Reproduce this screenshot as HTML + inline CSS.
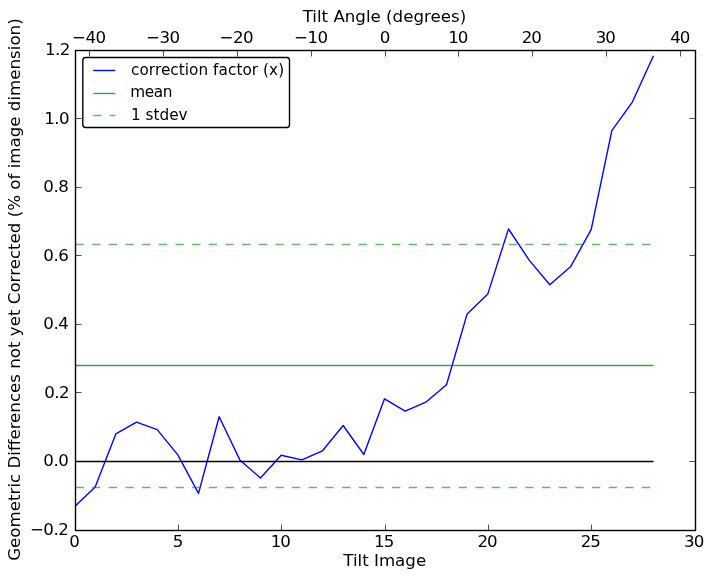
<!DOCTYPE html>
<html><head><meta charset="utf-8"><title>Tilt correction</title>
<style>
html,body{margin:0;padding:0;background:#fff;}
body{width:714px;height:579px;overflow:hidden;}
svg{display:block;}
text{font-family:"DejaVu Sans","Liberation Sans",sans-serif;font-size:16.667px;fill:#000;}
.lg text{font-size:15.28px;}
.tk text{letter-spacing:-0.55px;}
</style></head><body>
<svg width="714" height="579" viewBox="0 0 714 579">
<rect x="0" y="0" width="714" height="579" fill="#fff"/>
<defs><clipPath id="ac"><rect x="75" y="50" width="620" height="480"/></clipPath></defs>
<polyline points="74.50,506.70 95.17,487.10 115.83,433.90 136.50,422.10 157.17,429.60 177.83,454.90 198.50,493.40 219.17,416.70 239.83,459.90 260.50,478.00 281.17,455.30 301.83,459.90 322.50,450.80 343.17,425.50 363.83,454.50 384.50,398.80 405.17,411.20 425.83,402.20 446.50,384.80 467.17,313.90 487.83,293.90 508.50,228.90 529.17,260.10 549.83,284.70 570.50,266.80 591.17,229.70 611.83,130.60 632.50,101.80 653.17,56.30" fill="none" stroke="#0000ff" stroke-width="1.389" stroke-linejoin="round" stroke-linecap="square" clip-path="url(#ac)"/>
<line x1="75.5" y1="461.50" x2="653.5" y2="461.50" stroke="#000" stroke-width="1.389" stroke-opacity="1"/>
<line x1="75.5" y1="365.50" x2="653.5" y2="365.50" stroke="#008000" stroke-width="1.389" stroke-opacity="0.75"/>
<line x1="75.5" y1="244.50" x2="653.5" y2="244.50" stroke="#008000" stroke-width="1.389" stroke-opacity="0.58" stroke-dasharray="8.33 8.33"/>
<line x1="75.5" y1="487.50" x2="653.5" y2="487.50" stroke="#008000" stroke-width="1.389" stroke-opacity="0.58" stroke-dasharray="8.33 8.33"/>
<rect x="75.5" y="50.5" width="620.0" height="480.0" fill="none" stroke="#000" stroke-width="1.389"/>
<path d="M75.5 530.5v-6.0 M178.5 530.5v-6.0 M281.5 530.5v-6.0 M385.5 530.5v-6.0 M488.5 530.5v-6.0 M591.5 530.5v-6.0 M695.5 530.5v-6.0 M89.5 50.5v6.0 M163.5 50.5v6.0 M237.5 50.5v6.0 M311.5 50.5v6.0 M385.5 50.5v6.0 M458.5 50.5v6.0 M532.5 50.5v6.0 M606.5 50.5v6.0 M680.5 50.5v6.0 M75.5 530.5h6.0 M695.5 530.5h-6.0 M75.5 461.5h6.0 M695.5 461.5h-6.0 M75.5 392.5h6.0 M695.5 392.5h-6.0 M75.5 324.5h6.0 M695.5 324.5h-6.0 M75.5 255.5h6.0 M695.5 255.5h-6.0 M75.5 187.5h6.0 M695.5 187.5h-6.0 M75.5 118.5h6.0 M695.5 118.5h-6.0 M75.5 50.5h6.0 M695.5 50.5h-6.0" stroke="#000" stroke-width="0.694" fill="none"/>
<g class="tk">
<text x="74.40" y="546.9" text-anchor="middle">0</text>
<text x="177.73" y="546.9" text-anchor="middle">5</text>
<text x="280.37" y="546.9" text-anchor="middle" style="letter-spacing:-1px">10</text>
<text x="383.70" y="546.9" text-anchor="middle" style="letter-spacing:-1px">15</text>
<text x="487.03" y="546.9" text-anchor="middle" style="letter-spacing:-1px">20</text>
<text x="590.37" y="546.9" text-anchor="middle" style="letter-spacing:-1px">25</text>
<text x="693.70" y="546.9" text-anchor="middle" style="letter-spacing:-1px">30</text>
<text x="88.8" y="42.8" text-anchor="middle">−40</text>
<text x="162.8" y="42.8" text-anchor="middle">−30</text>
<text x="236.3" y="42.8" text-anchor="middle">−20</text>
<text x="310.8" y="42.8" text-anchor="middle">−10</text>
<text x="384.8" y="42.8" text-anchor="middle">0</text>
<text x="457.8" y="42.8" text-anchor="middle" style="letter-spacing:-1px">10</text>
<text x="531.3" y="42.8" text-anchor="middle" style="letter-spacing:-1px">20</text>
<text x="605.3" y="42.8" text-anchor="middle" style="letter-spacing:-1px">30</text>
<text x="679.8" y="42.8" text-anchor="middle" style="letter-spacing:-1px">40</text>
<text x="68.2" y="534.9" text-anchor="end">−0.2</text>
<text x="68.2" y="466" text-anchor="end">0.0</text>
<text x="69.0" y="397.6" text-anchor="end">0.2</text>
<text x="68.2" y="329" text-anchor="end">0.4</text>
<text x="68.2" y="261" text-anchor="end">0.6</text>
<text x="68.2" y="192" text-anchor="end">0.8</text>
<text x="69.0" y="124" text-anchor="end">1.0</text>
<text x="69.8" y="55" text-anchor="end">1.2</text>
</g>
<text x="384.4" y="21.8" text-anchor="middle">Tilt Angle (degrees)</text>
<text x="384.7" y="566" text-anchor="middle">Tilt Image</text>
<text transform="translate(20.4 289.6) rotate(-90)" text-anchor="middle">Geometric Differences not yet Corrected (% of image dimension)</text>
<g class="lg">
<rect x="82.8" y="57.5" width="206.7" height="70" rx="2.8" ry="2.8" fill="#fff" stroke="#000" stroke-width="1.389"/>
<line x1="93.2" y1="70.5" x2="115.2" y2="70.5" stroke="#0000ff" stroke-width="1.389"/>
<line x1="93.2" y1="93.5" x2="115.2" y2="93.5" stroke="#008000" stroke-opacity="0.75" stroke-width="1.389"/>
<line x1="93.2" y1="115.5" x2="115.2" y2="115.5" stroke="#008000" stroke-opacity="0.58" stroke-width="1.389" stroke-dasharray="8.33 8.33"/>
<text x="131" y="75.3" style="letter-spacing:0.05px">correction factor (x)</text>
<text x="130.3" y="96.9" style="letter-spacing:-0.4px">mean</text>
<text x="131" y="120.2">1 stdev</text>
</g>
</svg></body></html>
